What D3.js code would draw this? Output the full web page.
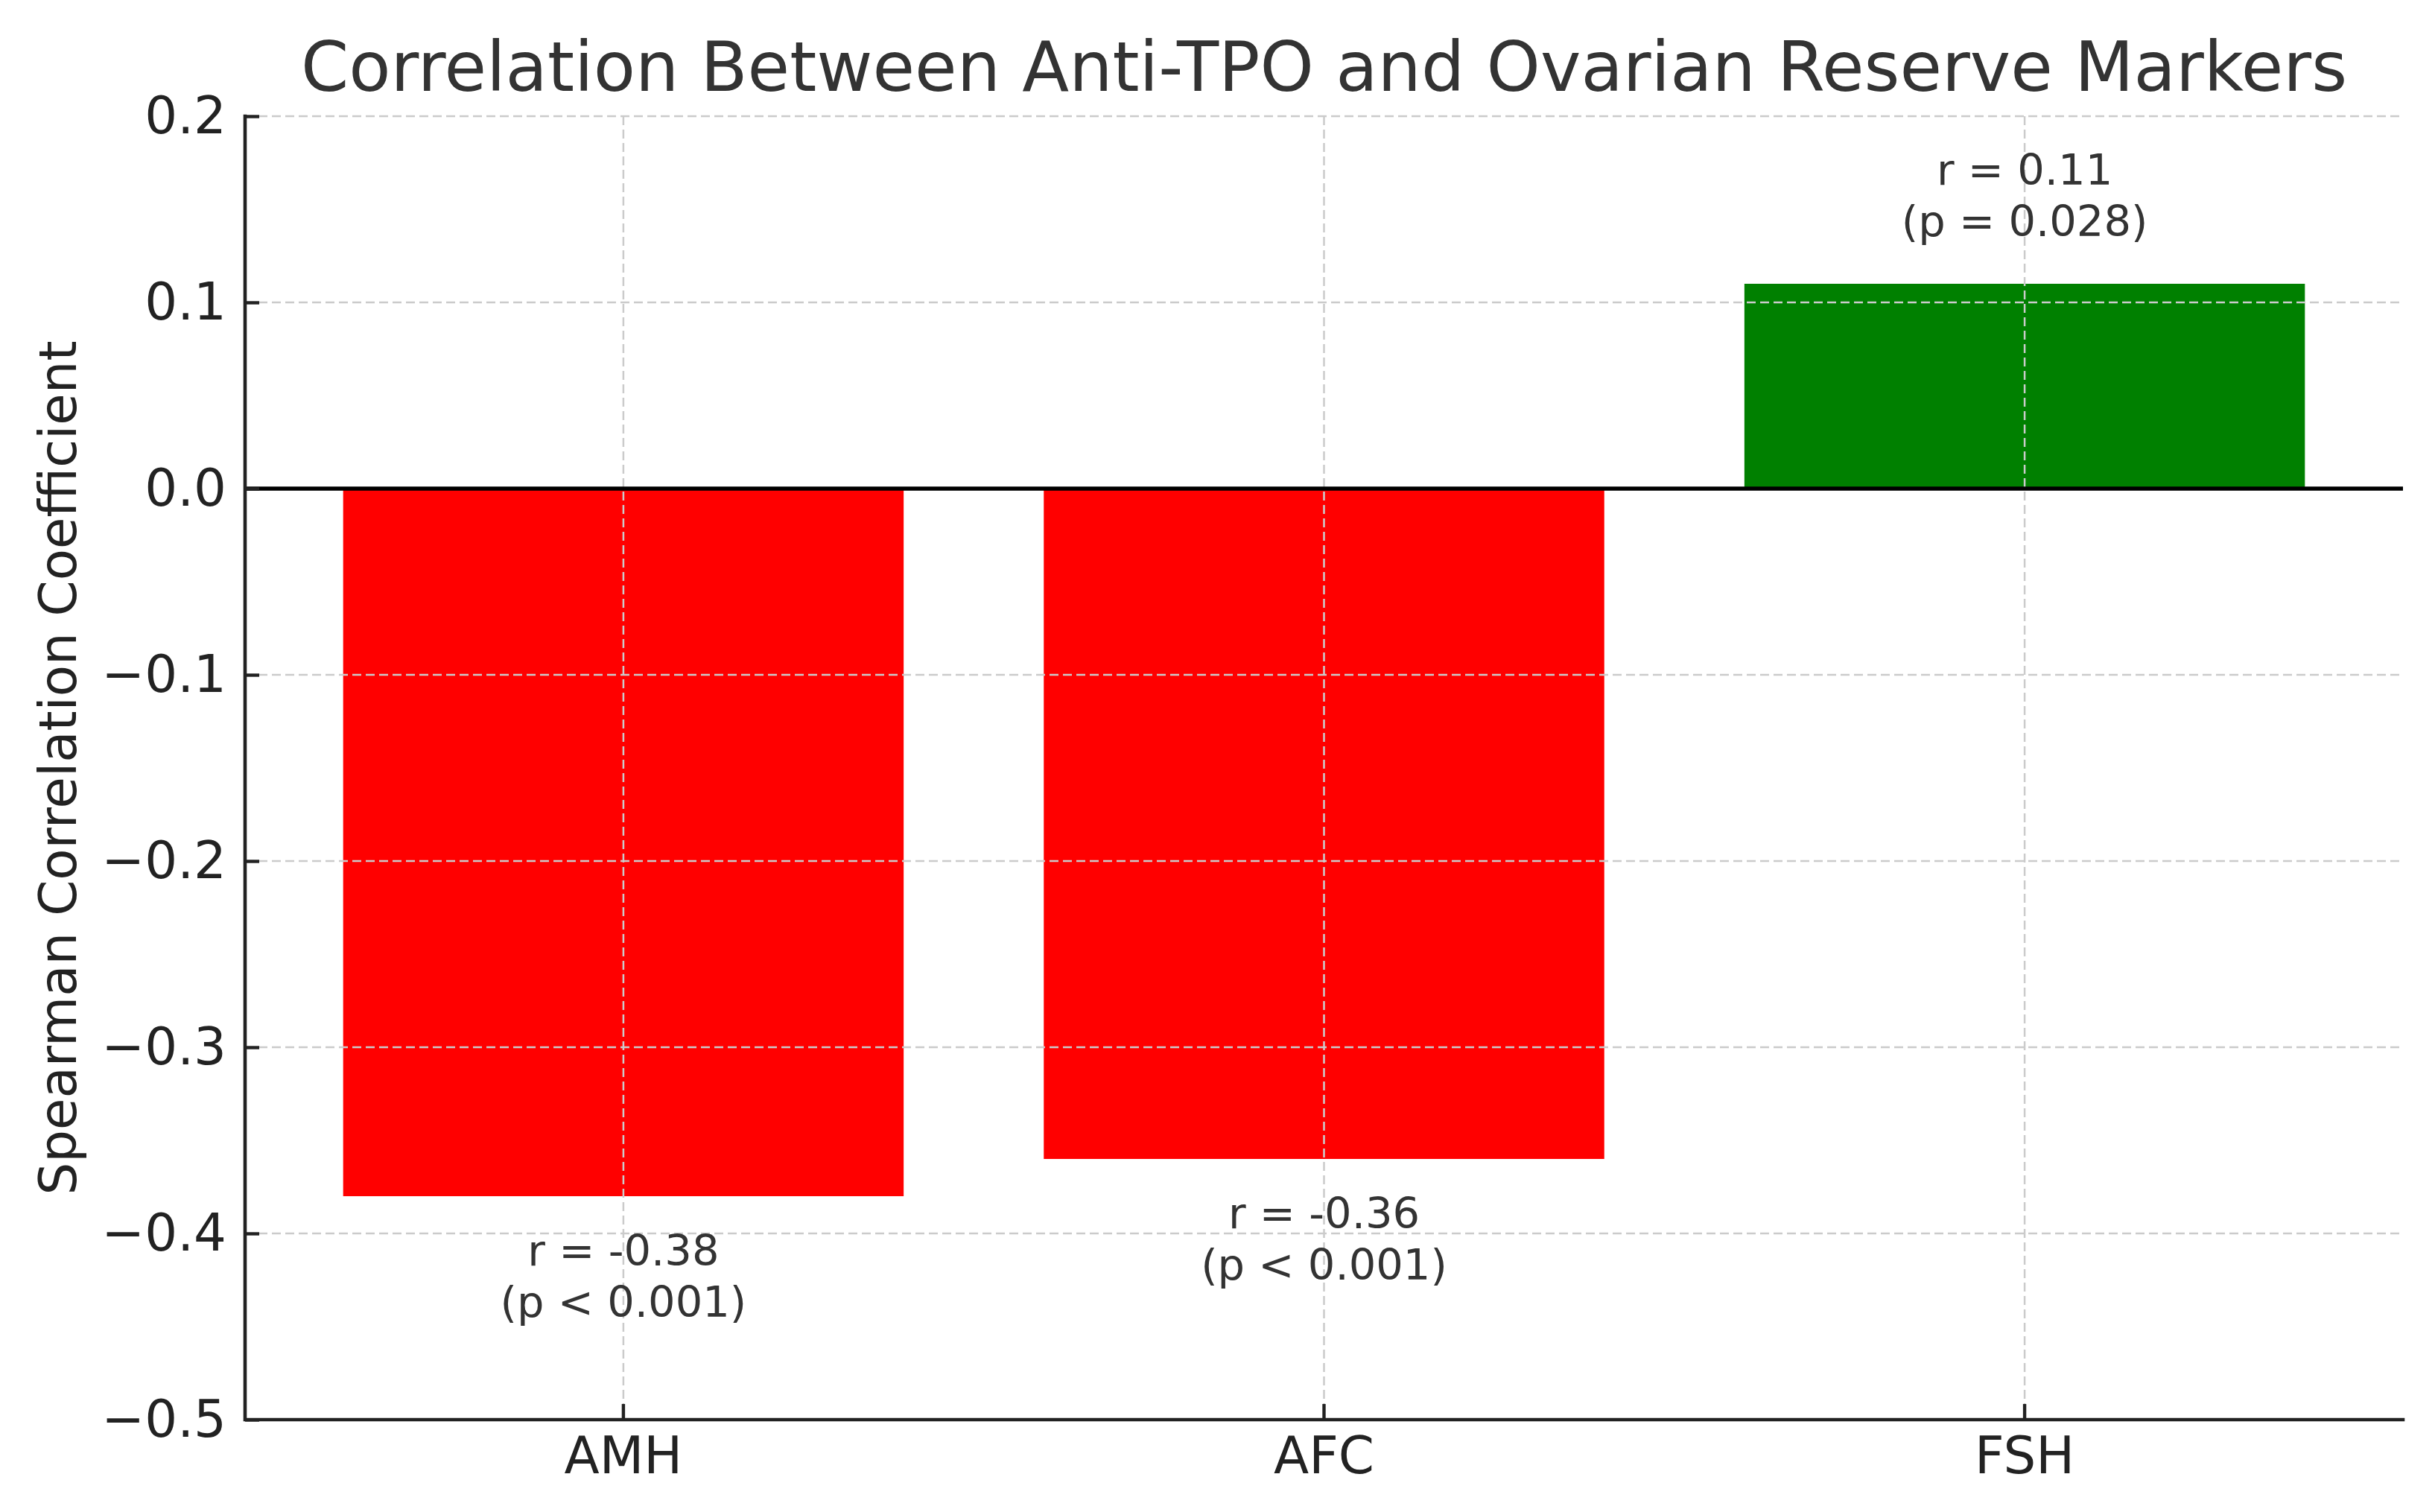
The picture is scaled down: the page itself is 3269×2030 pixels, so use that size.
<!DOCTYPE html>
<html>
<head>
<meta charset="utf-8">
<script src="https://cdn.jsdelivr.net/npm/d3@7/dist/d3.min.js"></script>
<style>
  html, body { margin: 0; padding: 0; background: #fff; }
  svg { display: block; font-family: "DejaVu Sans", sans-serif; }
</style>
</head>
<body>
<svg id="chart"></svg>
<script>
// chart data
const markers = ['AMH', 'AFC', 'FSH'];
const rValues = [-0.38, -0.36, 0.11];
const pLabels = ['(p < 0.001)', '(p < 0.001)', '(p = 0.028)'];
const yTicks = [0.2, 0.1, 0.0, -0.1, -0.2, -0.3, -0.4, -0.5];

const width = 3269;
const height = 2030;
const margin = { top: 156, right: 43, bottom: 124, left: 329 };

const svg = d3.select('#chart')
  .attr('width', width)
  .attr('height', height);

const x = d3.scaleBand()
  .domain(markers)
  .range([margin.left, width - margin.right])
  .paddingInner(0.2)
  .paddingOuter(0.14);

const y = d3.scaleLinear()
  .domain([-0.5, 0.2])
  .range([height - margin.bottom, margin.top]);

const color = v => v < 0 ? '#ff0000' : '#008000';

// bars
svg.append('g')
  .selectAll('rect')
  .data(markers)
  .enter().append('rect')
  .attr('x', d => x(d))
  .attr('width', x.bandwidth())
  .attr('y', (d, i) => y(Math.max(0, rValues[i])))
  .attr('height', (d, i) => Math.abs(y(rValues[i]) - y(0)))
  .attr('fill', (d, i) => color(rValues[i]));

// grid (drawn over the bars, like matplotlib)
const grid = svg.append('g')
  .attr('stroke', '#cbcbcb')
  .attr('stroke-width', 2.5)
  .attr('stroke-dasharray', '12,6');

grid.selectAll('.hgrid')
  .data(yTicks)
  .enter().append('line')
  .attr('class', 'hgrid')
  .attr('x1', margin.left)
  .attr('x2', width - margin.right)
  .attr('y1', d => y(d))
  .attr('y2', d => y(d));

grid.selectAll('.vgrid')
  .data(markers)
  .enter().append('line')
  .attr('class', 'vgrid')
  .attr('x1', d => x(d) + x.bandwidth() / 2)
  .attr('x2', d => x(d) + x.bandwidth() / 2)
  .attr('y1', y(0.2))
  .attr('y2', y(-0.5));

// zero line
svg.append('line')
  .attr('x1', margin.left)
  .attr('x2', width - margin.right)
  .attr('y1', y(0))
  .attr('y2', y(0))
  .attr('stroke', '#000')
  .attr('stroke-width', 5.5);

// axes
const yAxis = svg.append('g')
  .attr('transform', `translate(${margin.left},0)`)
  .call(d3.axisLeft(y)
    .tickValues(yTicks)
    .tickFormat(d3.format('.1f'))
    .tickSizeInner(-19)
    .tickSizeOuter(0)
    .tickPadding(25));

const xAxis = svg.append('g')
  .attr('transform', `translate(0,${height - margin.bottom})`)
  .call(d3.axisBottom(x)
    .tickSizeInner(-21)
    .tickSizeOuter(0)
    .tickPadding(23));

[yAxis, xAxis].forEach(ax => {
  ax.select('.domain').remove();
  ax.selectAll('.tick line').attr('stroke', '#222').attr('stroke-width', 4.4);
  ax.selectAll('.tick text')
    .attr('fill', '#222')
    .style('font-size', '69px')
    .style('font-family', '"DejaVu Sans", sans-serif');
});

// spines (left and bottom only)
svg.append('path')
  .attr('d', `M${margin.left},${y(0.2)}V${y(-0.5)}H${width - margin.right}`)
  .attr('fill', 'none')
  .attr('stroke', '#222')
  .attr('stroke-width', 4.6)
  .attr('stroke-linecap', 'square');

// annotations
const notes = svg.append('g')
  .attr('fill', '#333')
  .style('font-size', '57.5px')
  .attr('text-anchor', 'middle');

markers.forEach((m, i) => {
  const v = rValues[i];
  const cx = x(m) + x.bandwidth() / 2;
  const t = notes.append('text').attr('x', cx);
  if (v < 0) {
    const top = y(v - 0.02);
    t.append('tspan').attr('x', cx).attr('y', top + 43).text(`r = ${v.toFixed(2)}`);
    t.append('tspan').attr('x', cx).attr('y', top + 43 + 69).text(pLabels[i]);
  } else {
    const bottom = y(v + 0.02);
    t.append('tspan').attr('x', cx).attr('y', bottom - 14 - 69).text(`r = ${v.toFixed(2)}`);
    t.append('tspan').attr('x', cx).attr('y', bottom - 14).text(pLabels[i]);
  }
});

// title
svg.append('text')
  .attr('x', (margin.left + width - margin.right) / 2)
  .attr('y', 122)
  .attr('text-anchor', 'middle')
  .attr('fill', '#333')
  .style('font-size', '92px')
  .text('Correlation Between Anti-TPO and Ovarian Reserve Markers');

// y label
svg.append('text')
  .attr('transform', `translate(102,${(y(0.2) + y(-0.5)) / 2}) rotate(-90)`)
  .attr('text-anchor', 'middle')
  .attr('fill', '#222')
  .style('font-size', '69px')
  .text('Spearman Correlation Coefficient');
</script>
</body>
</html>
